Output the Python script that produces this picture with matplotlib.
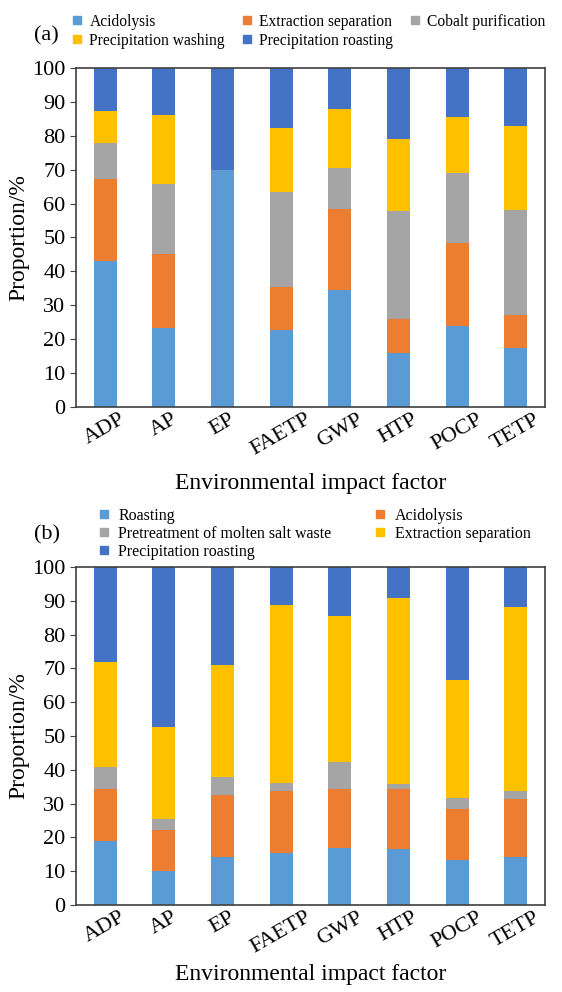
import numpy as np
import matplotlib.pyplot as plt
from matplotlib.lines import Line2D

plt.rcParams['font.family'] = ['Liberation Serif', 'DejaVu Serif']

factors = ['ADP', 'AP', 'EP', 'FAETP', 'GWP', 'HTP', 'POCP', 'TETP']

# (a) proportions per process, %
a_names = ['Acidolysis', 'Extraction separation', 'Cobalt purification',
           'Precipitation washing', 'Precipitation roasting']
a_acid = [43.0, 23.3, 70.0, 22.8, 34.6, 15.9, 24.0, 17.3]
a_extr = [24.2, 21.8, 0.0, 12.5, 23.8, 10.1, 24.4, 9.9]
a_cob = [10.8, 20.7, 0.0, 28.2, 12.0, 31.8, 20.7, 31.0]
a_wash = [9.4, 20.3, 0.0, 18.7, 17.5, 21.2, 16.3, 24.8]
a_roast = [12.6, 13.9, 30.0, 17.8, 12.1, 21.0, 14.6, 17.0]

# (b)
b_names = ['Roasting', 'Acidolysis', 'Pretreatment of molten salt waste',
           'Extraction separation', 'Precipitation roasting']
b_roast = [18.8, 10.1, 14.3, 15.3, 16.8, 16.6, 13.2, 14.3]
b_acid = [15.6, 12.1, 18.1, 18.5, 17.5, 17.8, 15.1, 17.0]
b_pre = [6.3, 3.1, 5.5, 2.2, 7.9, 1.5, 3.5, 2.5]
b_extr = [31.2, 27.4, 33.2, 52.9, 43.2, 54.9, 34.7, 54.3]
b_proast = [28.1, 47.3, 28.9, 11.1, 14.6, 9.2, 33.5, 11.9]

colors = ['#5B9BD5', '#ED7D31', '#A5A5A5', '#FFC000', '#4472C4']

fig = plt.figure(figsize=(5.62, 9.92), dpi=100)
ax1 = fig.add_axes([0.135, 0.5897, 0.835, 0.3418])
ax2 = fig.add_axes([0.135, 0.0877, 0.835, 0.3407])


def stacked(ax, series, lp):
    x = np.arange(len(factors))
    bottom = np.zeros(len(factors))
    for vals, c in zip(series, colors):
        ax.bar(x, vals, 0.39, bottom=bottom, color=c, linewidth=0)
        bottom += np.array(vals)
    ax.set_xlim(-0.5, len(factors) - 0.5)
    ax.set_ylim(0, 100)
    ax.set_yticks(np.arange(0, 101, 10))
    ax.set_xticks(x)
    ax.set_xticklabels(factors, rotation=30)
    ax.tick_params(axis='both', labelsize=16, direction='out', length=4,
                   color='#404040')
    ax.tick_params(axis='x', length=0, pad=2)
    for s in ax.spines.values():
        s.set_color('#404040')
        s.set_linewidth(1.2)
    ax.set_xlabel('Environmental impact factor', fontsize=17, labelpad=lp)
    ax.set_ylabel('Proportion/%', fontsize=17, labelpad=2)


stacked(ax1, [a_acid, a_extr, a_cob, a_wash, a_roast], 10)
stacked(ax2, [b_roast, b_acid, b_pre, b_extr, b_proast], 5)


def handles(idx, names):
    return [Line2D([], [], marker='s', markersize=6, linestyle='none',
                   color=colors[i], label=names[i]) for i in idx]


fig.legend(handles=handles([0, 3, 1, 4, 2], a_names), loc='upper left',
           bbox_to_anchor=(0.123, 0.986), ncol=3, frameon=False,
           fontsize=11.2, handletextpad=0.3, columnspacing=0.9,
           labelspacing=0.18, borderpad=0, borderaxespad=0, handlelength=1)
fig.legend(handles=handles([0, 2, 4, 1, 3], b_names), loc='upper left',
           bbox_to_anchor=(0.171, 0.488), ncol=2, frameon=False,
           fontsize=11.5, handletextpad=0.4, columnspacing=2.55,
           labelspacing=0.12, borderpad=0, borderaxespad=0, handlelength=1)

fig.text(0.060, 0.9637, '(a)', fontsize=16, ha='left', va='center')
fig.text(0.060, 0.4607, '(b)', fontsize=16, ha='left', va='center')

fig.savefig('out.png', dpi=100)
